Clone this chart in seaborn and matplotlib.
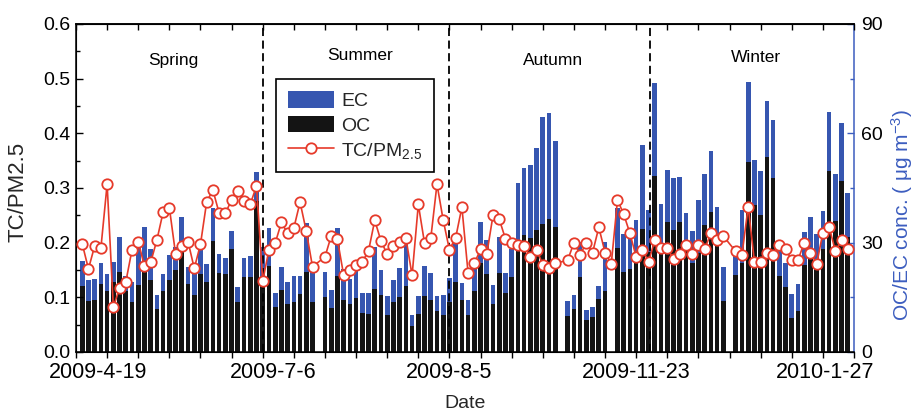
import numpy as np
import pandas as pd
import matplotlib
matplotlib.use("Agg")
import matplotlib.pyplot as plt
import seaborn as sns
from matplotlib.patches import Patch
from matplotlib.lines import Line2D
from matplotlib.ticker import MultipleLocator, FormatStrFormatter

sns.set_style("ticks")
plt.rcParams["font.family"] = ["Liberation Sans", "DejaVu Sans"]
plt.rcParams["mathtext.default"] = "regular"
plt.rcParams["axes.edgecolor"] = "black"
plt.rcParams["xtick.color"] = "black"
plt.rcParams["ytick.color"] = "black"

nan = np.nan
# ---- data (sample index 1..124) ----
slots = list(range(1, 125))
oc = [18.2, 14.0, 14.2, 18.7, 16.7, 19.2, 22.0, 16.7, 13.8, 18.4,
      24.0, 19.8, 11.9, 16.7, 19.8, 22.5, 27.5, 18.7, 15.7, 21.5,
      19.3, 30.5, 21.6, 21.3, 28.3, 13.6, 20.5, 20.5, 41.3, 18.0,
      23.7, 12.3, 17.0, 13.3, 13.8, 15.8, 22.0, 13.6, nan, 15.0,
      12.0, 20.8, 14.4, 13.2, 14.9, 10.6, 10.3, 17.4, 15.6, 10.1,
      13.7, 15.2, 18.2, 7.0, 10.4, 15.3, 14.4, 11.3, 10.2, 13.6,
      19.3, 14.3, 10.2, 16.8, 24.5, 21.4, 13.3, 21.8, 16.3, 20.7,
      29.2, 32.1, 31.2, 33.6, 35.2, 36.5, 34.4, nan, 9.8, 11.7,
      20.7, 8.8, 9.7, 14.5, 16.8, nan, 28.6, 22.0, 22.7, 25.0,
      33.7, 27.5, 48.2, 29.4, 35.8, 33.5, 35.8, 28.5, 24.3, 27.2,
      34.8, 38.5, 29.6, 14.1, nan, 21.1, 24.3, 52.2, 40.3, 37.6,
      53.4, 47.7, 20.9, 17.9, 9.4, 11.2, 23.9, 26.0, 22.7, 28.2,
      49.8, 35.9, 46.9, 31.6]
ec = [6.8, 5.8, 5.9, 5.6, 4.7, 5.4, 9.6, 4.2, 5.3, 10.3,
      10.2, 8.5, 3.8, 4.8, 6.8, 6.2, 9.5, 4.7, 7.3, 7.0,
      4.8, 8.9, 5.4, 4.5, 4.9, 4.3, 5.3, 5.8, 8.1, 10.7,
      10.2, 3.8, 6.4, 6.0, 7.1, 5.1, 13.5, 9.5, nan, 6.9,
      5.0, 13.1, 8.4, 6.7, 8.6, 5.5, 5.8, 11.4, 6.9, 5.2,
      6.1, 7.8, 13.5, 3.2, 4.9, 8.2, 7.4, 4.0, 5.4, 6.7,
      11.0, 4.7, 4.0, 8.0, 11.3, 9.3, 5.2, 9.7, 5.3, 7.6,
      17.3, 18.3, 20.0, 22.5, 29.2, 29.0, 23.6, nan, 4.3, 3.9,
      9.6, 2.7, 2.6, 3.5, 13.5, nan, 10.8, 10.3, 11.0, 11.2,
      23.0, 11.5, 25.5, 11.1, 14.1, 14.2, 12.1, 9.7, 9.0, 14.5,
      14.0, 16.7, 10.3, 9.1, nan, 8.0, 14.7, 22.0, 12.4, 12.1,
      15.6, 16.0, 8.5, 6.4, 6.4, 7.4, 8.9, 11.0, 9.7, 10.5,
      16.1, 12.9, 15.8, 12.1]
tc_pm25 = [0.198, 0.152, 0.194, 0.190, 0.307, 0.082, 0.117, 0.128, 0.187, 0.202,
           0.157, 0.164, 0.205, 0.256, 0.264, 0.179, 0.193, 0.202, 0.153, 0.197,
           0.275, 0.296, 0.254, 0.254, 0.278, 0.295, 0.276, 0.270, 0.304, 0.130,
           0.187, 0.199, 0.237, 0.217, 0.227, 0.274, 0.221, 0.156, nan, 0.174,
           0.212, 0.206, 0.141, 0.150, 0.160, 0.165, 0.185, 0.241, 0.203, 0.179,
           0.194, 0.201, 0.209, 0.140, 0.270, 0.199, 0.208, 0.307, 0.241, 0.187,
           0.209, 0.265, 0.144, 0.162, 0.188, 0.179, 0.250, 0.243, 0.207, 0.200,
           0.196, 0.193, 0.174, 0.187, 0.160, 0.153, 0.162, nan, 0.168, 0.200,
           0.178, 0.200, 0.182, 0.228, 0.182, 0.161, 0.278, 0.252, 0.217, 0.174,
           0.187, 0.165, 0.205, 0.190, 0.190, 0.170, 0.180, 0.196, 0.180, 0.196,
           0.188, 0.217, 0.204, 0.212, nan, 0.184, 0.178, 0.266, 0.165, 0.165,
           0.181, 0.177, 0.196, 0.188, 0.168, 0.168, 0.200, 0.182, 0.161, 0.218,
           0.229, 0.185, 0.204, 0.188]

date_labels = ["2009-4-19", "2009-7-6", "2009-8-5", "2009-11-23", "2010-1-27"]
date_label_pos = [3.5, 31.7, 59.9, 90.0, 120.4]
season_names = ["Spring", "Summer", "Autumn", "Winter"]
season_x = [15.6, 45.7, 76.7, 109.2]
season_y = [0.534, 0.543, 0.534, 0.538]
season_bounds = [30, 60, 92.3]

BLUE = "#3656b0"
BLACK = "#141414"
RED = "#e63a2a"
AXBLUE = "#3c5dbf"

df = pd.DataFrame({"slot": slots, "OC": oc, "EC": ec, "TC_PM25": tc_pm25})
df["Total"] = df["OC"] + df["EC"]
bars = df.dropna(subset=["OC"])
line = df.dropna(subset=["TC_PM25"])

fig = plt.figure(figsize=(9.14, 4.16), dpi=100)
ax = fig.add_axes([76 / 914, 1 - 352 / 416, 778 / 914, 328 / 416])
ax2 = ax.twinx()

sns.barplot(data=bars, x="slot", y="Total", native_scale=True, color=BLUE,
            saturation=1, width=0.75, linewidth=0, errorbar=None, ax=ax2)
sns.barplot(data=bars, x="slot", y="OC", native_scale=True, color=BLACK,
            saturation=1, width=0.75, linewidth=0, errorbar=None, ax=ax2)

sns.lineplot(data=line, x="slot", y="TC_PM25", ax=ax, color=RED, lw=1.2,
             marker="o", markersize=7.5, markerfacecolor="white",
             markeredgecolor=RED, markeredgewidth=1.3, zorder=5)

for b in season_bounds:
    ax.axvline(b, color="black", lw=1.3, ls=(0, (4.5, 2.5)), zorder=3)
for name, sx, sy in zip(season_names, season_x, season_y):
    ax.text(sx, sy, name, ha="center", va="center", fontsize=12.5, color="black")

ax.set_zorder(ax2.get_zorder() + 1)
ax.patch.set_visible(False)

ax.set_xlim(0, 125)
ax.set_ylim(0, 0.6)
ax2.set_ylim(0, 90)

ax.yaxis.set_major_locator(MultipleLocator(0.1))
ax.yaxis.set_minor_locator(MultipleLocator(0.05))
ax.yaxis.set_major_formatter(FormatStrFormatter("%.1f"))
ax2.yaxis.set_major_locator(MultipleLocator(30))
ax2.yaxis.set_minor_locator(MultipleLocator(15))

major_x = list(range(0, 126, 5))
ax.xaxis.remove_overlapping_locs = False
ax.set_xticks(major_x, labels=[""] * len(major_x))
ax.set_xticks(date_label_pos, labels=date_labels, minor=True)
ax.tick_params(axis="x", which="major", direction="out", length=4.5, width=1)
ax.tick_params(axis="x", which="minor", length=0, labelsize=15.5, pad=7)
ax.tick_params(axis="y", which="major", direction="in", length=5, width=1,
               labelsize=14, pad=4)
ax.tick_params(axis="y", which="minor", direction="in", length=3, width=1)
ax2.tick_params(axis="y", which="major", direction="in", length=5, width=1,
                colors=AXBLUE, labelcolor="black", labelsize=14, pad=5)
ax2.tick_params(axis="y", which="minor", direction="in", length=3, width=1,
                colors=AXBLUE)

sec = ax.secondary_xaxis("top")
sec.set_xticks(major_x)
sec.tick_params(axis="x", direction="in", length=4, width=1, labeltop=False)

for s in ["left", "bottom", "top"]:
    ax.spines[s].set_linewidth(1.1)
    ax.spines[s].set_color("black")
ax.spines["right"].set_visible(False)
ax2.spines["right"].set_color(AXBLUE)
ax2.spines["right"].set_linewidth(1.1)
sec.spines["top"].set_linewidth(1.1)

ax.set_xlabel("")
ax.set_ylabel("")
ax2.set_xlabel("")
ax2.set_ylabel("")

fig.text(18.5 / 914, 1 - 192 / 416, "TC/PM2.5", rotation=90, ha="center",
         va="center", fontsize=16)
fig.text(902 / 914, 1 - 215 / 416, "OC/EC conc. ( μg m$^{-3}$)", rotation=90,
         ha="center", va="center", fontsize=15, color=AXBLUE)
fig.text(465 / 914, 1 - 404 / 416, "Date", ha="center", va="center", fontsize=14)

handles = [Patch(facecolor=BLUE, edgecolor="none", label="EC"),
           Patch(facecolor=BLACK, edgecolor="none", label="OC"),
           Line2D([], [], color=RED, lw=1.2, marker="o", ms=7.5,
                  mfc="white", mec=RED, mew=1.3, label="TC/PM$_{2.5}$")]
leg = ax.legend(handles=handles, loc="upper left", bbox_to_anchor=(0.257, 0.832),
                frameon=True, fancybox=False, edgecolor="black", framealpha=1,
                fontsize=14, handlelength=2.4, handleheight=0.95,
                handletextpad=0.35, labelspacing=0.3, borderpad=0.6,
                borderaxespad=0)
leg.get_frame().set_linewidth(1.2)

fig.savefig("out.png", dpi=100, facecolor="white")
